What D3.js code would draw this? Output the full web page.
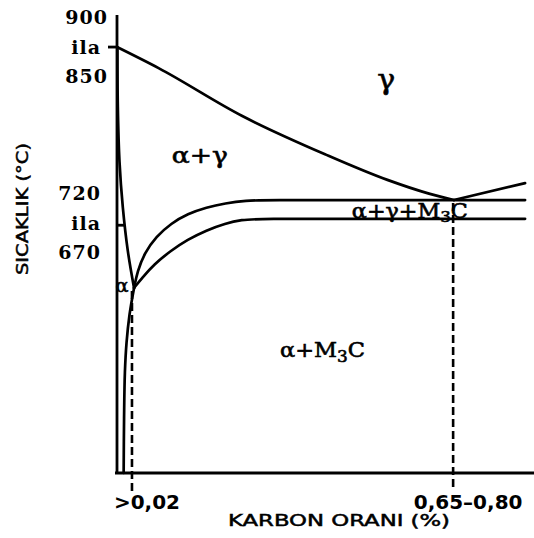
<!DOCTYPE html>
<html>
<head>
<meta charset="utf-8">
<script src="https://cdn.jsdelivr.net/npm/d3@7"></script>
<style>
  body { margin: 0; background: #fff; }
  svg { display: block; }
  .phase { fill: none; stroke: #000; stroke-width: 2.7; stroke-linejoin: round; stroke-linecap: round; }
  .axis-line { stroke: #000; stroke-width: 2.8; }
  .drop { stroke: #000; stroke-width: 2.6; stroke-dasharray: 8 4; }
  .ynum { font-family: "DejaVu Serif", serif; font-weight: bold; font-size: 19px; letter-spacing: 1px; }
  .xnum { font-family: "DejaVu Sans", sans-serif; font-weight: bold; font-size: 20px; }
  .title { font-family: "DejaVu Sans", sans-serif; font-size: 16px; stroke: #000; stroke-width: 0.5; }
  .region { font-family: "DejaVu Serif", serif; stroke: #000; stroke-width: 0.6; }
</style>
</head>
<body>
<svg id="Vis" width="534" height="538"></svg>
<script>
// schematic diagram units: carbon axis 0..100 (left -> right), temperature axis 0..100 (bottom -> top)

// A3 line: gamma / alpha+gamma boundary, from pure iron down to the eutectoid point
const gammaBoundary = [[0, 93], [10, 88.4], [30, 78.0], [50, 69.6], [65, 64.0], [75, 61.0], [81, 59.6]];
// Acm line: beyond the eutectoid point
const acmLine = [[81, 59.6], [98.1, 63.3]];
// alpha / alpha+gamma boundary near the temperature axis
const alphaBoundary = [[0.1, 93], [0.2, 80], [0.6, 68], [1.4, 58], [2.6, 48.5], [4.1, 40.4]];
// carbon solubility in alpha
const alphaSolvus = [[4.1, 40.4], [3.0, 34.5], [2.3, 28.5], [1.9, 22], [1.7, 12], [1.6, 0]];
// upper (720) and lower (670) limits of the three phase band
const upperA1 = [[4.1, 40.4], [4.9, 44.0], [6.6, 48.0], [9.4, 51.6], [13.0, 54.5], [17.0, 56.6],
  [21.5, 58.0], [26, 58.9], [31, 59.5], [36, 59.6], [60, 59.6], [98.1, 59.6]];
const lowerA1 = [[4.1, 40.4], [6.0, 42.6], [9.0, 45.6], [12.7, 48.4], [17.0, 51.0], [21.5, 53.0],
  [26.0, 54.5], [30.0, 55.3], [34.0, 55.5], [60, 55.5], [98.1, 55.5]];

// dashed drop lines to the carbon axis
const dropX = [3.6, 80.8];
const dropTop = [40.4, 59.6];
const xTickLabels = [">0,02", "0,65\u20130,80"];

// temperature labels
const yTickLabels = ["900", "ila", "850", "720", "ila", "670"];
const yTickValues = [99.6, 93.0, 86.7, 61.2, 54.6, 48.2];

// phase fields
const regionNames = ["\u03b3", "\u03b1+\u03b3", "\u03b1+\u03b3+M|3|C", "\u03b1+M|3|C", "\u03b1"];
const regionX = [64.7, 19.9, 70.4, 49.4, 1.2];
const regionY = [83.8, 67.6, 55.7, 25.3, 39.6];

const margin = { top: 15, bottom: 65, left: 117, right: 1 };

let svg = d3.select("body").select("svg#Vis");
const plot = svg.append("g").attr("id", "plot");

drawChart();

function drawChart() {
  const width = +svg.attr("width");
  const height = +svg.attr("height");

  /* SCALES */
  const xScale = d3.scaleLinear().domain([0, 100]).range([margin.left, width - margin.right]);
  const yScale = d3.scaleLinear().domain([0, 100]).range([height - margin.bottom, margin.top]);

  // near-vertical lines
  const steepLine = d3.line()
    .x(d => xScale(d[0]))
    .y(d => yScale(d[1]))
    .curve(d3.curveCatmullRom.alpha(0.5));
  // lines running along the carbon axis
  const flatLine = d3.line()
    .x(d => xScale(d[0]))
    .y(d => yScale(d[1]))
    .curve(d3.curveMonotoneX);
  // the two bends leaving the alpha point
  const bendLine = d3.line()
    .x(d => xScale(d[0]))
    .y(d => yScale(d[1]))
    .curve(d3.curveBasis);

  /* AXES */
  const axes = plot.append("g").attr("id", "axes");
  axes.append("line").attr("class", "axis-line")
    .attr("x1", xScale(0)).attr("x2", xScale(0))
    .attr("y1", yScale(100)).attr("y2", yScale(0) + 1);
  axes.append("line").attr("class", "axis-line")
    .attr("x1", xScale(0) - 2).attr("x2", width)
    .attr("y1", yScale(0)).attr("y2", yScale(0));

  // "ila" ticks
  axes.append("line").attr("class", "axis-line")
    .attr("x1", xScale(0) - 9).attr("x2", xScale(0))
    .attr("y1", yScale(yTickValues[1])).attr("y2", yScale(yTickValues[1]));
  axes.append("line").attr("class", "axis-line")
    .attr("x1", xScale(0)).attr("x2", xScale(1.8))
    .attr("y1", yScale(54.1)).attr("y2", yScale(54.1));

  axes.selectAll("text.ynum")
    .data(yTickLabels)
    .enter()
    .append("text")
      .attr("class", "ynum")
      .attr("text-anchor", "end")
      .attr("x", (d, i) => xScale(0) - (i < 3 && d !== "ila" ? 9 : 16))
      .attr("y", (d, i) => yScale(yTickValues[i]))
      .attr("dy", "0.36em")
      .text(d => d);

  axes.selectAll("text.xnum")
    .data(xTickLabels)
    .enter()
    .append("text")
      .attr("class", "xnum")
      .attr("text-anchor", "middle")
      .attr("x", (d, i) => xScale(dropX[i]) + 15)
      .attr("y", height - 29)
      .text(d => d);

  axes.append("text")
    .attr("class", "title")
    .attr("text-anchor", "middle")
    .attr("x", 339)
    .attr("y", height - 12)
    .attr("textLength", 222)
    .attr("lengthAdjust", "spacingAndGlyphs")
    .text("KARBON ORANI (%)");

  axes.append("text")
    .attr("class", "title")
    .attr("text-anchor", "middle")
    .attr("transform", translate(28, 209) + " rotate(-90)")
    .attr("textLength", 132)
    .attr("lengthAdjust", "spacingAndGlyphs")
    .text("SICAKLIK (\u00b0C)");

  /* PHASE BOUNDARIES */
  const bounds = plot.append("g").attr("id", "boundaries");
  [alphaBoundary, alphaSolvus].forEach(pts => {
    bounds.append("path").attr("class", "phase").attr("d", steepLine(pts));
  });
  [gammaBoundary, acmLine].forEach(pts => {
    bounds.append("path").attr("class", "phase").attr("d", flatLine(pts));
  });
  [upperA1, lowerA1].forEach(pts => {
    bounds.append("path").attr("class", "phase").attr("d", bendLine(pts));
  });

  bounds.selectAll("line.drop")
    .data(dropX)
    .enter()
    .append("line")
      .attr("class", "drop")
      .attr("x1", d => xScale(d)).attr("x2", d => xScale(d))
      .attr("y1", (d, i) => yScale(dropTop[i]) + 3)
      .attr("y2", yScale(0) + 18);

  drawRegions(xScale, yScale);
}

/*
 * phase field names, "|" marks the subscript part
 */
function drawRegions(xScale, yScale) {
  const sizes = [28, 22, 20, 21, 18];
  const widths = [18, 56, 116, 85, 13];
  const group = plot.append("g").attr("id", "regions");

  regionNames.forEach((name, i) => {
    const t = group.append("text")
      .attr("class", "region")
      .attr("text-anchor", "middle")
      .attr("x", xScale(regionX[i]))
      .attr("y", yScale(regionY[i]))
      .style("font-size", sizes[i] + "px")
      .attr("textLength", widths[i])
      .attr("lengthAdjust", "spacingAndGlyphs");
    name.split("|").forEach((part, j) => {
      const s = t.append("tspan").text(part);
      if (j === 1) s.attr("dy", "0.3em").style("font-size", "0.75em");
      if (j === 2) s.attr("dy", "-0.225em");
    });
  });
}

function translate(x, y) {
  return 'translate(' + String(x) + ',' + String(y) + ')';
}
</script>
</body>
</html>
